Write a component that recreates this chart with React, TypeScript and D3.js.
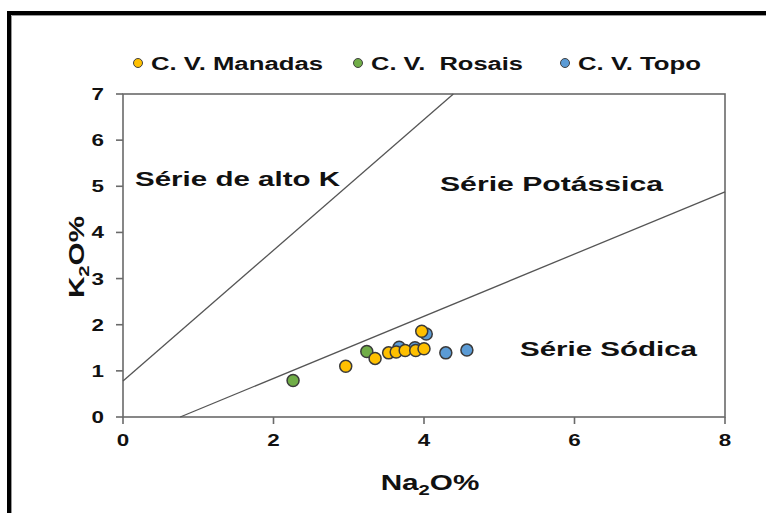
import React from "react";
import * as d3 from "d3";

const manadasX = [2.96, 3.35, 3.53, 3.63, 3.75, 3.89, 4.0, 3.97];
const manadasY = [1.1, 1.27, 1.39, 1.41, 1.44, 1.44, 1.48, 1.86];
const rosaisX = [2.26, 3.24];
const rosaisY = [0.79, 1.42];
const topoX = [3.67, 3.88, 4.03, 4.29, 4.57];
const topoY = [1.51, 1.5, 1.8, 1.39, 1.45];

const xTicks = [0, 2, 4, 6, 8];
const yTicks = [0, 1, 2, 3, 4, 5, 6, 7];

const line1 = [[0, 0.78], [4.39, 7]];
const line2 = [[0.76, 0], [8, 4.88]];

const legendNames = ["C. V. Manadas", "C. V.  Rosais", "C. V. Topo"];
const colors = ["#FFC000", "#70AD47", "#5B9BD5"];

export default function App() {
  const W = 766, H = 513;
  const x = d3.scaleLinear().domain([0, 8]).range([123, 725]);
  const y = d3.scaleLinear().domain([0, 7]).range([417, 94]);
  const font = "Arial, 'Liberation Sans', sans-serif";
  const series = [
    { xs: topoX, ys: topoY, c: colors[2] },
    { xs: rosaisX, ys: rosaisY, c: colors[1] },
    { xs: manadasX, ys: manadasY, c: colors[0] },
  ];
  const lineGen = d3.line<number[]>().x(d => x(d[0])).y(d => y(d[1]));
  const legendX = [138, 358, 565];
  const legendW = [172, 152, 123];
  const sx = 1.4;
  return (
    <svg width={W} height={H} style={{ position: "absolute", left: 0, top: 0 }} fontFamily={font}>
      <rect x={0} y={0} width={W} height={H} fill="#fff" />
      <path d="M9,513 L9,13 L766,13" fill="none" stroke="#000" strokeWidth={4} />
      <path d="M11.5,513 L11.5,15.5 L766,15.5" fill="none" stroke="#999" strokeWidth={1} />
      {/* legend */}
      {legendNames.map((n, i) => (
        <g key={n}>
          <circle cx={legendX[i]} cy={63} r={4.5} fill={colors[i]} stroke="#404040" strokeWidth={1} />
          <text x={legendX[i] + 13} y={70} fontSize={18} fontWeight="bold" fill="#111" textLength={legendW[i]} lengthAdjust="spacingAndGlyphs" style={{ whiteSpace: "pre" }}>{n}</text>
        </g>
      ))}
      {/* plot box */}
      <rect x={x(0)} y={y(7)} width={x(8) - x(0)} height={y(0) - y(7)} fill="none" stroke="#6a6a6a" strokeWidth={1.6} />
      {yTicks.map(t => (
        <g key={"y" + t}>
          <line x1={x(0) - 7} x2={x(0)} y1={y(t)} y2={y(t)} stroke="#6a6a6a" strokeWidth={1.6} />
          <text transform={`translate(104,${y(t) + 6}) scale(${sx},1)`} fontSize={16} fontWeight="bold" textAnchor="end" fill="#111">{t}</text>
        </g>
      ))}
      {xTicks.map(t => (
        <g key={"x" + t}>
          <line x1={x(t)} x2={x(t)} y1={y(0)} y2={y(0) + 7} stroke="#6a6a6a" strokeWidth={1.6} />
          <text transform={`translate(${x(t)},446) scale(${sx},1)`} fontSize={16} fontWeight="bold" textAnchor="middle" fill="#111">{t}</text>
        </g>
      ))}
      {/* division lines */}
      <path d={lineGen(line1) || ""} stroke="#555" strokeWidth={1.3} fill="none" />
      <path d={lineGen(line2) || ""} stroke="#555" strokeWidth={1.3} fill="none" />
      {/* region labels */}
      <text x={135} y={186} fontSize={20} fontWeight="bold" fill="#111" textLength={205} lengthAdjust="spacingAndGlyphs">Série de alto K</text>
      <text x={440} y={191} fontSize={20} fontWeight="bold" fill="#111" textLength={223} lengthAdjust="spacingAndGlyphs">Série Potássica</text>
      <text x={520} y={356} fontSize={20} fontWeight="bold" fill="#111" textLength={177} lengthAdjust="spacingAndGlyphs">Série Sódica</text>
      {/* points */}
      {series.map((s, si) => s.xs.map((v, i) => (
        <circle key={si + "-" + i} cx={x(v)} cy={y(s.ys[i])} r={6} fill={s.c} stroke="#3a3a3a" strokeWidth={1.5} />
      )))}
      {/* axis titles */}
      <text transform={`translate(430,490) scale(1.35,1)`} fontSize={22} fontWeight="bold" textAnchor="middle" fill="#111">
        Na<tspan fontSize={15} dy={5}>2</tspan><tspan dy={-5}>O%</tspan>
      </text>
      <text transform={`translate(84,257) rotate(-90) scale(1.35,1)`} fontSize={22} fontWeight="bold" textAnchor="middle" fill="#111">
        K<tspan fontSize={15} dy={5}>2</tspan><tspan dy={-5}>O%</tspan>
      </text>
    </svg>
  );
}
